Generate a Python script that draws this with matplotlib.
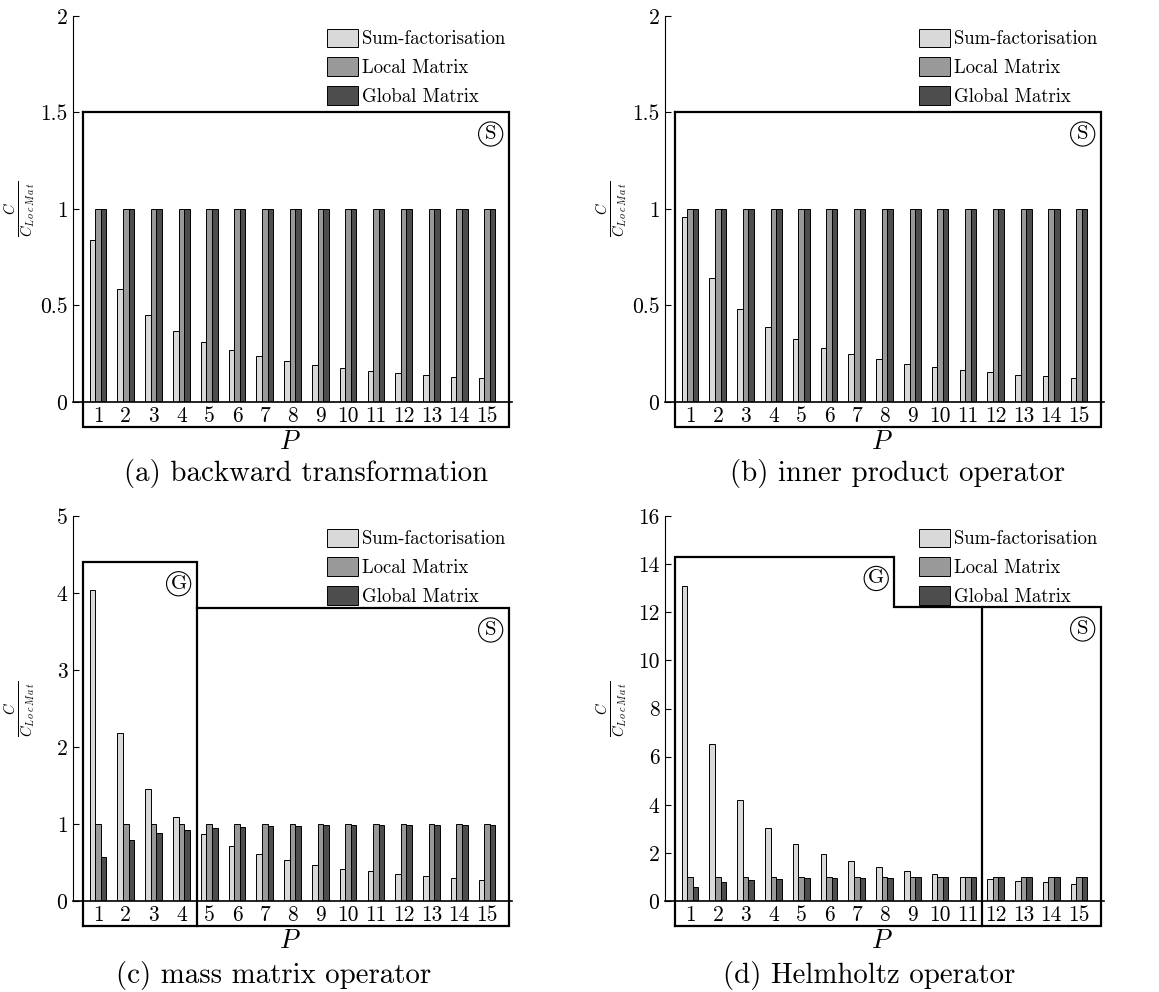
import matplotlib
matplotlib.use('Agg')
import matplotlib.pyplot as plt
import numpy as np

plt.rcParams['font.family'] = ['cmr10', 'DejaVu Serif']
plt.rcParams['mathtext.fontset'] = 'cm'
plt.rcParams['axes.unicode_minus'] = False
plt.rcParams['axes.formatter.use_mathtext'] = True

P = np.arange(1, 16)
series_names = ['Sum-factorisation', 'Local Matrix', 'Global Matrix']
bar_colors = ['#d9d9d9', '#999999', '#4d4d4d']

# (a) backward transformation
bwd_sumfac = [0.837, 0.586, 0.452, 0.367, 0.310, 0.269, 0.237, 0.213,
              0.192, 0.177, 0.163, 0.151, 0.139, 0.130, 0.123]
bwd_local = [1.0] * 15
bwd_global = [1.0] * 15

# (b) inner product operator
ip_sumfac = [0.960, 0.641, 0.482, 0.388, 0.324, 0.279, 0.246, 0.220,
             0.198, 0.180, 0.166, 0.153, 0.142, 0.133, 0.125]
ip_local = [1.0] * 15
ip_global = [1.0] * 15

# (c) mass matrix operator
mass_sumfac = [4.04, 2.18, 1.46, 1.09, 0.866, 0.714, 0.610, 0.532,
               0.468, 0.420, 0.385, 0.351, 0.320, 0.299, 0.277]
mass_local = [1.0] * 15
mass_global = [0.567, 0.792, 0.887, 0.922, 0.944, 0.961, 0.970, 0.978,
               0.983, 0.985, 0.987, 0.988, 0.989, 0.990, 0.991]

# (d) Helmholtz operator
helm_sumfac = [13.09, 6.53, 4.19, 3.04, 2.38, 1.95, 1.65, 1.41,
               1.25, 1.12, 1.00, 0.91, 0.84, 0.78, 0.72]
helm_local = [1.0] * 15
helm_global = [0.57, 0.80, 0.89, 0.93, 0.95, 0.965, 0.972, 0.978,
               0.983, 0.986, 0.988, 0.990, 0.990, 0.990, 0.990]

captions = ['(a) backward transformation', '(b) inner product operator',
            '(c) mass matrix operator', '(d) Helmholtz operator']

x0, x1 = 0.46, 15.78
panels = [
    dict(pos=[0.063, 0.5948, 0.3788, 0.3891], ymax=2, step=0.5,
         data=[bwd_sumfac, bwd_local, bwd_global],
         lines=[[(x0, 1.5), (x1, 1.5), (x1, None), (x0, None), (x0, 1.5)]],
         marks=[('S', x1, 1.5)], cap=(306, 473)),
    dict(pos=[0.5738, 0.5948, 0.3788, 0.3891], ymax=2, step=0.5,
         data=[ip_sumfac, ip_local, ip_global],
         lines=[[(x0, 1.5), (x1, 1.5), (x1, None), (x0, None), (x0, 1.5)]],
         marks=[('S', x1, 1.5)], cap=(898, 473)),
    dict(pos=[0.063, 0.0917, 0.3788, 0.3881], ymax=5, step=1,
         data=[mass_sumfac, mass_local, mass_global],
         lines=[[(x0, None), (x0, 4.4), (4.55, 4.4), (4.55, None)],
                [(4.55, 3.8), (x1, 3.8), (x1, None), (x0, None)]],
         marks=[('G', 4.55, 4.4), ('S', x1, 3.8)], cap=(274, 975)),
    dict(pos=[0.5738, 0.0917, 0.3788, 0.3881], ymax=16, step=2,
         data=[helm_sumfac, helm_local, helm_global],
         lines=[[(x0, None), (x0, 14.3), (8.35, 14.3), (8.35, 12.2),
                 (x1, 12.2), (x1, None), (x0, None)],
                [(11.5, 12.2), (11.5, None)]],
         marks=[('G', 8.35, 14.3), ('S', x1, 12.2)], cap=(869, 975)),
]

fig = plt.figure(figsize=(11.59, 9.92), dpi=100)
width = 0.2

for k, pn in enumerate(panels):
    ax = fig.add_axes(pn['pos'])
    ymax = pn['ymax']
    ybot = -0.065 * ymax
    for i, vals in enumerate(pn['data']):
        ax.bar(P + (i - 1) * width, vals, width, color=bar_colors[i],
               edgecolor='black', linewidth=0.7, label=series_names[i], zorder=2)
    ax.set_xlim(0.1, 15.9)
    ax.set_ylim(0, ymax)
    ax.set_xticks(P)
    ax.set_xticklabels([str(p) for p in P])
    ax.set_yticks(np.arange(0, ymax + 0.001, pn['step']))
    ax.yaxis.set_major_formatter(matplotlib.ticker.FuncFormatter(lambda v, _: '%g' % v))
    ax.tick_params(axis='y', direction='in', length=4, width=0.8, labelsize=15.5, pad=4)
    ax.tick_params(axis='x', length=0, labelsize=15.5, pad=3)
    for s in ['top', 'right']:
        ax.spines[s].set_visible(False)
    ax.spines['left'].set_linewidth(0.8)
    ax.spines['bottom'].set_linewidth(1.2)

    for ln in pn['lines']:
        xs = [p[0] for p in ln]
        ys = [ybot if p[1] is None else p[1] for p in ln]
        ax.plot(xs, ys, color='black', lw=1.6, clip_on=False, zorder=3,
                solid_joinstyle='miter')
    for letter, mx, my in pn['marks']:
        ax.annotate(letter, (mx, my), xytext=(-13, -15.5), textcoords='offset points',
                    ha='center', va='center', fontsize=15, annotation_clip=False,
                    bbox=dict(boxstyle='circle,pad=0.15', fc='white', ec='black', lw=0.8))

    ax.set_ylabel(r'$\frac{C}{C_{L\,o\,c\,M\,a\,t}}$', fontsize=15, va='center')
    ax.yaxis.set_label_coords(-0.12, 0.5)
    ax.set_xlabel('$P$', fontsize=19)
    ax.xaxis.set_label_coords(0.494, -0.104)
    ax.xaxis.label.set_va('center')

    ax.legend(loc='upper left', bbox_to_anchor=(0.5786, 0.967), frameon=False,
              fontsize=13.5, handlelength=1.65, handleheight=1.15,
              labelspacing=0.48, handletextpad=0.2, borderpad=0, borderaxespad=0)

    cx, cy = pn['cap']
    fig.text(cx / 1159, 1 - cy / 992, captions[k], ha='center', va='center', fontsize=20.8)

fig.savefig('out.png', dpi=100)
